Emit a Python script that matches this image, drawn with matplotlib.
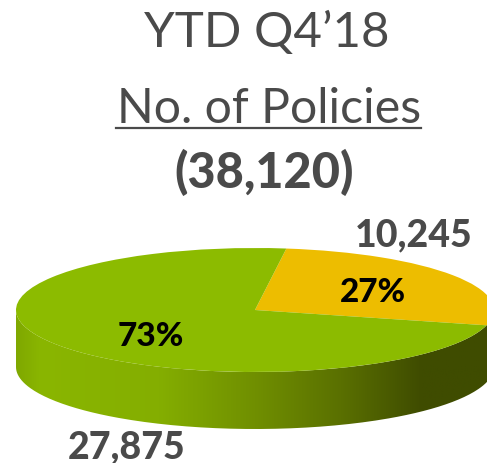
import numpy as np
import matplotlib
matplotlib.use("Agg")
import matplotlib.pyplot as plt
from matplotlib.colors import LinearSegmentedColormap
from matplotlib.lines import Line2D
from matplotlib.patches import PathPatch
from matplotlib.path import Path

W, H = 487, 464

# data
labels = ["10,245", "27,875"]
policies = [10245, 27875]
percents = ["27%", "73%"]
colors = ["#EDBD00", "#8CBB00"]
total_label = "(38,120)"
title = "YTD Q4\u201918"
subtitle = "No. of Policies"

# pie placement in pixels
cx, cy = 255, 311
rx, ry = 239, 62
depth = 57
start = -14.3

plt.rcParams["font.family"] = ["Lato", "DejaVu Sans"]
fig = plt.figure(figsize=(W / 100, H / 100), dpi=100)
ax = fig.add_axes([0, 0, 1, 1])
wedges, _ = ax.pie(policies, colors=colors, startangle=start, counterclock=True, radius=1,
                   wedgeprops={"linewidth": 0})
for w in wedges:
    w.set_zorder(3)
ax.set_aspect("auto")

# side wall of the disc, gradient left to right
d = depth / ry
t = np.linspace(np.pi, 2 * np.pi, 200)
top = np.column_stack([np.cos(t), np.sin(t)])
bottom = np.column_stack([np.cos(t[::-1]), np.sin(t[::-1]) - d])
verts = np.vstack([top, bottom, top[:1]])
wall = PathPatch(Path(verts), fc="none", ec="none", transform=ax.transData)
ax.add_patch(wall)
cmap = LinearSegmentedColormap.from_list("wall", [
    (0.00, "#7FA800"), (0.05, "#8AB600"), (0.30, "#84AE00"), (0.50, "#708F00"),
    (0.68, "#5A7000"), (0.85, "#3F4C00"), (1.00, "#3F4C00")])
grad = ax.imshow(np.linspace(0, 1, 256).reshape(1, -1), cmap=cmap, aspect="auto",
                 extent=(-1, 1, -1 - d, 0), zorder=2)
grad.set_clip_path(wall)
ax.set_xlim(-cx / rx, (W - cx) / rx)
ax.set_ylim(-(H - cy) / ry, cy / ry)


def put(x, y, s, size, color="#4A4A4A", weight="normal"):
    fig.text(x / W, 1 - y / H, s, fontsize=size, color=color, fontweight=weight,
             ha="center", va="center")


put(267, 33, title, 35.5)
put(269, 109, subtitle, 34.7)
fig.add_artist(Line2D([116 / W, 421 / W], [1 - 129 / H] * 2, color="#4A4A4A", lw=1.6))
put(264, 172, total_label, 35, weight="black")
put(414, 235, labels[0], 27, weight="black")
put(127, 447, labels[1], 27, weight="black")
put(373, 293, percents[0], 24, color="black", weight="black")
put(151, 337, percents[1], 24, color="black", weight="black")

fig.savefig("out.png", dpi=100)
